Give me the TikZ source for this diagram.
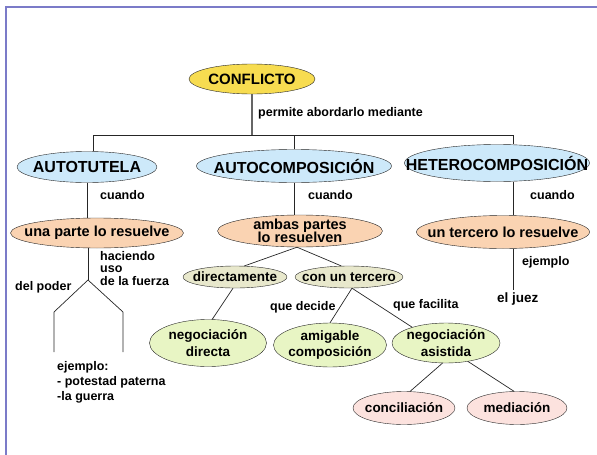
\documentclass[tikz,border=0pt]{standalone}
\usepackage{fontspec}
\setmainfont{Liberation Sans}
\usepackage{tikz}
\usetikzlibrary{shapes.geometric,positioning}

\definecolor{frameC}{HTML}{7B7BC8}
\definecolor{conflC}{HTML}{F7DC50}
\definecolor{headC}{HTML}{CDE9FA}
\definecolor{whenC}{HTML}{FAD3B2}
\definecolor{howC}{HTML}{E8E8CC}
\definecolor{kindC}{HTML}{E8F5C4}
\definecolor{leafC}{HTML}{FCE2DE}

\tikzset{
  elli/.style={ellipse, draw=black!85, inner xsep=-60pt, inner ysep=-25pt, align=center},
  conf/.style={elli, fill=conflC, font=\fontsize{15}{17}\selectfont\bfseries},
  head/.style={elli, fill=headC, font=\fontsize{16}{18}\selectfont\bfseries},
  when/.style={elli, fill=whenC, font=\fontsize{14.5}{16}\selectfont\bfseries},
  how/.style={elli, fill=howC, font=\fontsize{13.5}{15}\selectfont\bfseries},
  kind/.style={elli, fill=kindC, font=\fontsize{13.5}{16.5}\selectfont\bfseries},
  leaf/.style={elli, fill=leafC, font=\fontsize{13.5}{15}\selectfont\bfseries},
  lbl/.style={inner sep=0pt, anchor=west, align=left,
    font=\fontsize{12.5}{14}\selectfont\bfseries},
  link/.style={draw=black!85, line width=0.7pt}
}

\begin{document}
\begin{tikzpicture}[x=1pt, y=-1pt]
\useasboundingbox (0,0) rectangle (597,455);
% slide frame
\draw[frameC, line width=1.3pt] (6,455) -- (6,7) -- (597,7);

% main nodes
\node[conf, minimum width=126pt, minimum height=30pt] (confl) at (252,79) {CONFLICTO};
\node[head, minimum width=140pt, minimum height=31pt] (autot) at (87,167) {AUTOTUTELA};
\node[head, minimum width=195pt, minimum height=33pt] (autoc) at (294,166) {AUTOCOMPOSICIÓN};
\node[head, minimum width=185pt, minimum height=37pt] (heter) at (497,163) {HETEROCOMPOSICIÓN};

\node[when, minimum width=173pt, minimum height=30pt] (unaparte) at (97,233) {una parte lo resuelve};
\node[when, minimum width=165pt, minimum height=32pt] (ambas) at (300,231) {ambas partes\\[-3pt]lo resuelven};
\node[when, minimum width=173pt, minimum height=33pt] (tercero) at (503,232) {un tercero lo resuelve};

\node[how, minimum width=104pt, minimum height=22pt] (directo) at (235,277) {directamente};
\node[how, minimum width=108pt, minimum height=22pt] (conter) at (349,277) {con un tercero};

\node[kind, minimum width=117pt, minimum height=47pt] (negdir) at (208,343) {negociación\\directa};
\node[kind, minimum width=113pt, minimum height=44pt] (amigable) at (330,345) {amigable\\composición};
\node[kind, minimum width=108pt, minimum height=40pt] (negasist) at (446,343) {negociación\\asistida};

\node[leaf, minimum width=102pt, minimum height=33pt] (concil) at (404,408) {conciliación};
\node[leaf, minimum width=100pt, minimum height=33pt] (mediac) at (517,408) {mediación};

% connectors
\coordinate (barL) at (93,135);
\coordinate (barR) at (513,135);
\draw[gray!80!black, line width=1.4pt] (confl.south) -- (confl.south |- barL);
\draw[link] (barL |- autot.north) |- (barR) -- (barR |- heter.north);
\draw[link] (autoc.north) -- (autoc.north |- barL);

\draw[link] (autot.south) -- (autot.south |- unaparte.north);
\draw[link] (autoc.south) -- (autoc.south |- ambas.north);
\draw[link] (barR |- heter.south) -- (barR |- tercero.north);

% autotutela fork
\coordinate (fork) at (88,280);
\coordinate (forkL) at (54,312);
\coordinate (forkR) at (123,312);
\coordinate (endL) at (54,352);
\coordinate (endR) at (123,352);
\draw[link] (fork |- unaparte.south) -- (fork);
\draw[link] (fork) -- (forkL) -- (endL);
\draw[link] (fork) -- (forkR) -- (endR);

% heterocomposicion
\coordinate (juezend) at (513,290);
\draw[link] (barR |- tercero.south) -- (juezend);

% autocomposicion tree
\draw[link] ([xshift=-3pt]ambas.south) -- (directo.50);
\draw[link] ([xshift=-3pt]ambas.south) -- (conter.125);
\draw[link] (directo.-100) -- (negdir.80);
\draw[link] (conter.-75) -- (amigable.north);
\draw[link] (conter.-75) -- (negasist.155);
\draw[link] (negasist.-100) -- (concil.70);
\draw[link] (negasist.-40) -- (mediac.100);

% link labels
\node[lbl] (lpermite) at (258,113) {permite abordarlo mediante};
\node[lbl] (lcuando1) at (100,195) {cuando};
\node[lbl] (lcuando2) at (308,195) {cuando};
\node[lbl] (lcuando3) at (530,195) {cuando};
\node[lbl, anchor=north west] (lhaciendo) at (100,251) {haciendo\\[-2pt]uso\\[-1pt]de la fuerza};
\node[lbl] (lpoder) at (15,287) {del poder};
\node[lbl, anchor=north west] (lejemplo1) at (57,361) {ejemplo:\\[1pt]- potestad paterna\\[1pt]-la guerra};
\node[lbl] (lejemplo2) at (522,262) {ejemplo};
\node[lbl, font=\fontsize{13.5}{15}\selectfont\bfseries] (ljuez) at (497,299) {el juez};
\node[lbl] (ldecide) at (270,307) {que decide};
\node[lbl] (lfacilita) at (393,305) {que facilita};
\end{tikzpicture}
\end{document}
